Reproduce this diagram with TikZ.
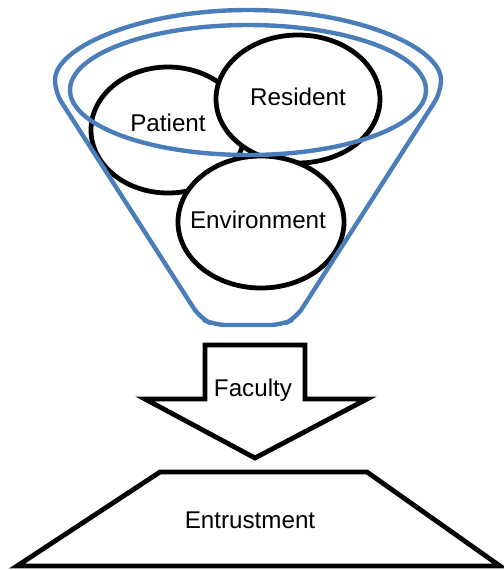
\documentclass[tikz,border=0pt]{standalone}
\usepackage{fontspec}
\setmainfont{Liberation Sans}
\definecolor{funnel}{RGB}{74,126,187}
\usetikzlibrary{shapes.geometric}

\begin{document}
\begin{tikzpicture}[x=0.5pt, y=-0.5pt,
    ring/.style={ellipse, draw=black, line width=2.4pt, fill=white, inner sep=0pt},
    rim/.style={draw=funnel, line width=2.2pt},
    outline/.style={draw=black, line width=2.4pt, line join=miter},
    caption/.style={font=\fontsize{12.1}{14}\selectfont, inner sep=0pt}]
    \useasboundingbox (0,0) rectangle (504,570);

    % Circles
    \node[ring, minimum width=77pt, minimum height=63pt,
        label={[caption, yshift=3.5pt]center:Patient}] (patient) at (168,130) {};
    \node[ring, minimum width=82pt, minimum height=64pt,
        label={[caption, yshift=1pt]center:Resident}] (resident) at (298,99) {};
    \node[ring, minimum width=83pt, minimum height=66pt,
        label={[caption, xshift=-1.5pt, yshift=1pt]center:Environment}] (environment) at (261,222) {};

    % Funnel
    \draw[rim] (248,90) ellipse [x radius=89pt, y radius=32.5pt];
    \draw[rim, rounded corners=6pt] (55,92) arc[start angle=180, end angle=0, x radius=96.5pt, y radius=41pt]
        -- (296,318) -- (282,325) -- (214,325) -- (200,318) -- cycle;

    % Arrow
    \draw[outline] (205,345) -- (305,345) -- (305,399) -- (367,399) -- (255,458)
        -- (145,399) -- (205,399) -- cycle;
    \node[caption] (faculty) at (253,390) {Faculty};

    % Base
    \draw[outline] (160,472) -- (367,472) -- (500,566) -- (17,566) -- cycle;
    \node[caption] (entrust) at (250,520) {Entrustment};
\end{tikzpicture}
\end{document}
